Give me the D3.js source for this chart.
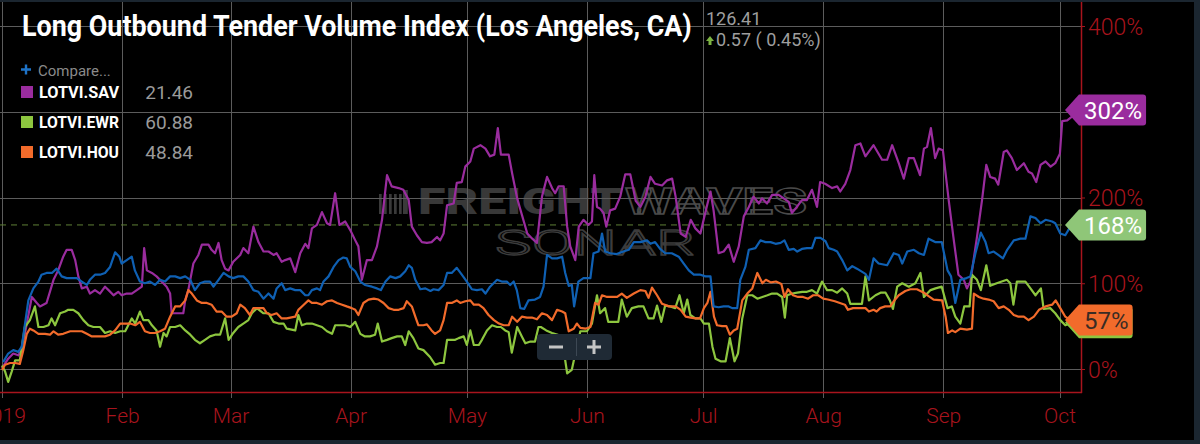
<!DOCTYPE html>
<html><head><meta charset="utf-8">
<script src="https://cdn.jsdelivr.net/npm/d3@7"></script>
<style>
html,body{margin:0;padding:0;background:#000;overflow:hidden}
svg{display:block;font-family:Roboto,"Noto Sans",sans-serif}
</style>
</head><body>
<svg id="chart" width="1200" height="444"></svg>
<script>
// ---------------- DATA ----------------
const titleText = "Long Outbound Tender Volume Index (Los Angeles, CA)";
const lastPrice = "126.41";
const priceChange = "0.57 ( 0.45%)";
const monthTicks = ["2019-01-01","2019-02-01","2019-03-01","2019-04-01","2019-05-01","2019-06-01","2019-07-01","2019-08-01","2019-09-01","2019-10-01"];
const monthLabels = ["2019","Feb","Mar","Apr","May","Jun","Jul","Aug","Sep","Oct"];
const yGrid = [0,100,200,300,400];
const yLabelTicks = [0,100,200,400]; // 300% label sits under the 302% tag
const legendNames = ["LOTVI.SAV","LOTVI.EWR","LOTVI.HOU"];
const legendValues = ["21.46","60.88","48.84"];
const compareLabel = "Compare...";
// series: [day offset from 2019-01-01, % change]
const lax = [[0.3,8],[1.6,18],[2.9,22],[4.2,20],[5.1,26],[6.8,80],[8.1,94],[9.4,102],[10.2,110],[11.5,112],[12.9,112],[14.1,117],[15.4,108],[16.7,106],[18,106],[19.3,106],[20.6,102],[21.9,98],[22.7,104],[24,110],[25.3,110],[26.6,112],[27.9,119],[29.2,136],[30.3,131],[30.9,123],[32.2,127],[33.5,131],[34.3,115],[35.6,102],[36.9,100],[38.2,102],[39.5,98],[40.8,104],[42.1,102],[43.4,108],[44.7,108],[46,106],[47.3,108],[48.6,104],[49.8,92],[51.1,100],[52.4,102],[53.7,102],[54.6,96],[55.9,104],[57.2,112],[58.5,108],[59.7,106],[61,108],[62.3,108],[63.6,102],[64.9,92],[66.2,90],[67.5,82],[68.8,88],[70.1,82],[70.9,94],[72.2,100],[73.1,92],[74.4,94],[75.7,92],[77,92],[78.3,86],[79.1,86],[80,92],[81.3,94],[82.1,92],[83,102],[84.3,108],[85.6,119],[86.9,127],[88.1,130],[89,129],[89.9,119],[91.2,114],[92.5,102],[93.7,98],[95.5,96],[96.8,94],[97.8,92],[99,102],[100.2,108],[101.6,106],[102.8,108],[104.1,114],[105,121],[105.8,118],[106.7,104],[108,93],[109.3,94],[110.6,91],[111.4,93],[112.7,92],[114,98],[114.9,112],[116.1,112],[117.4,118],[118.7,110],[120,102],[121.3,93],[122.6,92],[123.9,93],[124.8,88],[126,96],[127.8,104],[129,102],[130.3,102],[131.2,98],[132.1,102],[132.9,92],[133.8,71],[134.8,70],[135.9,80],[137.6,81],[138.9,84],[139.8,96],[140.7,133],[142,129],[143.3,129],[144.6,131],[145.4,112],[146.3,97],[147.1,98],[147.7,73],[148.8,102],[150.1,106],[151.9,106],[152.7,135],[154,137],[154.9,158],[155.7,137],[157,135],[158.7,134],[160.4,137],[161.8,139],[163.1,148],[164.8,148],[166.5,150],[167.4,146],[168.6,148],[169.9,140],[171.2,135],[172.9,135],[174.7,131],[176,123],[177.3,115],[178.6,110],[180.3,110],[181.6,108],[182.9,108],[183.7,73],[185,72],[186.3,73],[187.6,73],[188.5,71],[189.8,71],[190.6,104],[191.9,119],[192.8,139],[194.5,141],[195.8,150],[197.1,148],[198.4,148],[199.7,146],[201,147],[202,150],[203.1,139],[204.4,140],[205.3,137],[206.5,140],[207.8,141],[209.1,141],[210,153],[211.3,153],[212.6,149],[213.4,141],[214.7,139],[215.6,137],[216.9,127],[218.2,115],[219.5,120],[220.7,117],[222.9,111],[223.8,104],[225,129],[226.3,123],[228.5,121],[230.2,135],[231.5,133],[232.4,123],[233.7,137],[235.4,139],[236.7,135],[238,133],[239.2,152],[240.9,148],[242.6,148],[244.1,115],[245,108],[246.1,77],[247.4,104],[249,106],[250,108],[251.3,135],[252.7,159],[253.9,148],[254.7,135],[256,137],[257.2,133],[258.4,129],[259.5,139],[261.2,150],[262.9,152],[264.2,152],[265.5,178],[266.8,176],[268.1,170],[269.4,174],[271.1,172],[271.9,170],[273.2,158],[274.5,156],[275.8,166],[276.6,168]];
const sav = [[0,1],[1.6,12],[2.9,18],[4.2,16],[5.1,22],[6.4,53],[7.7,84],[9,77],[9.8,73],[11.5,77],[13.3,104],[14.5,115],[15.8,131],[16.7,139],[18,139],[18.9,127],[19.7,108],[20.6,94],[21.9,96],[22.7,88],[24,92],[25.3,88],[26.6,96],[27.5,92],[28.8,86],[30,90],[30.9,86],[32.2,88],[33.5,88],[34.8,92],[36.1,96],[36.7,141],[37.4,115],[38.7,112],[39.9,108],[41.2,102],[42.5,96],[43.4,88],[43.8,65],[45.1,65],[46.8,65],[47.3,80],[48.1,92],[49.4,123],[50.7,133],[51.6,145],[53.3,145],[54.1,139],[55,135],[55.9,147],[56.7,127],[57.6,117],[58.5,115],[59.7,125],[61.5,133],[62.3,141],[63.6,135],[64.9,166],[66.2,148],[67.5,137],[68.8,137],[70.1,133],[70.9,135],[72.2,125],[73.1,127],[74.4,129],[75.7,113],[77,135],[78.3,146],[79.1,141],[80,164],[81.3,168],[82.6,183],[83.9,170],[84.7,168],[86,205],[87.1,168],[88.6,172],[89.9,162],[91.2,150],[92,143],[92.9,104],[94.2,127],[95.5,127],[96.8,143],[98.1,174],[99.4,226],[100.6,213],[102.4,211],[103.6,209],[105,197],[105.8,166],[107.1,156],[108.4,148],[109.7,147],[110.9,148],[112.3,154],[113.1,150],[114,158],[114.9,191],[116.6,193],[117.4,217],[118.7,218],[119.6,236],[120.9,242],[121.8,257],[123.5,261],[124.8,257],[126,248],[127.1,250],[128,281],[128.8,250],[130.8,250],[131.7,228],[133,199],[134.2,180],[135.6,158],[136.9,152],[138.1,147],[139.4,201],[140.7,224],[142,211],[142.8,205],[143.7,213],[145,213],[145.9,166],[146.7,143],[148,127],[148.9,166],[150.1,174],[151.4,168],[152.3,172],[152.9,226],[153.6,189],[154.4,187],[155.3,182],[156,166],[157,185],[158.3,187],[159.6,201],[160.9,227],[162.2,227],[163.6,196],[164.8,189],[166.1,201],[167.4,224],[168.6,216],[170.4,214],[171.7,220],[173,222],[173.9,201],[175.2,158],[176.5,154],[177.8,174],[179,164],[180.3,158],[181.6,183],[182.9,207],[183.7,185],[185,135],[186.3,137],[187.6,145],[188.9,125],[190.2,143],[191.5,178],[192.8,189],[194,201],[195.4,193],[196.2,199],[197.5,193],[198.8,203],[200.5,203],[201.8,199],[203.1,195],[203.9,182],[205.2,189],[206.5,197],[207.8,197],[209.1,209],[210.4,189],[211.2,218],[212.5,216],[214.3,211],[215.6,213],[216.4,207],[217.7,216],[219,232],[220.3,261],[221.6,263],[222.9,248],[225,261],[227.2,244],[228.5,244],[229.8,261],[231.5,240],[232.8,222],[234.1,246],[235.4,246],[237,226],[238,257],[238.8,259],[239.8,281],[240.9,246],[241.8,257],[242.9,255],[244.4,197],[245.6,154],[246.9,110],[248.3,104],[249.1,94],[250,102],[251.7,154],[253,197],[254.1,238],[255.1,224],[256.4,222],[257.2,215],[258.6,253],[259.4,255],[260.7,246],[262,232],[263.8,240],[265,230],[265.9,228],[267,218],[268.1,238],[269.4,242],[270.7,236],[271.9,240],[273.1,251],[273.7,289],[275,290],[276.7,296]];
const ewr = [[0,4],[0.8,-3],[1.6,-15],[2.5,-3],[3.4,10],[4.6,10],[5.9,49],[7.2,57],[8.5,73],[9.4,49],[10.7,49],[12,51],[12.8,59],[13.7,51],[15,65],[16.3,67],[17.1,69],[18.4,69],[19.7,65],[21,57],[22.3,51],[23.6,49],[25.3,49],[26.6,42],[27.9,44],[29.2,42],[30.5,44],[31.8,44],[33.5,59],[34.4,53],[35.6,67],[36.5,57],[37.8,57],[38.7,51],[39.9,45],[40.8,26],[41.7,42],[42.5,38],[43.4,49],[44.7,49],[46,51],[47.3,45],[48.6,40],[49.8,34],[51.1,30],[52.4,34],[53.7,38],[55,40],[56.3,40],[57.6,59],[58.5,34],[59.7,42],[61,49],[62.3,53],[63.6,57],[64.5,65],[65.8,71],[67.5,65],[68.8,65],[70.1,55],[71.4,53],[72.7,53],[73.5,47],[75.7,45],[76.5,63],[77.4,51],[78.7,53],[80,53],[81.3,51],[82.6,49],[83.9,44],[85.2,41],[86,51],[87.3,51],[88.6,51],[89.9,49],[91.2,55],[92.5,41],[93.7,38],[95,38],[96.3,40],[97,53],[98.1,32],[99.4,34],[100.6,36],[102,38],[103.2,38],[104.1,28],[105,44],[106.2,36],[107.5,24],[108.8,22],[110.5,14],[111.8,5],[113.1,7],[114,7],[114.9,34],[117,34],[117.9,36],[119.2,38],[120,28],[120.9,45],[121.8,28],[123.1,28],[123.9,34],[125.2,45],[126.5,51],[127.8,49],[128.8,49],[129.9,45],[130.8,43],[131.6,19],[133,49],[134.2,38],[135.1,30],[136.4,32],[137.6,32],[138.5,49],[139.1,49],[140.5,45],[142,42],[143.5,40],[145,22],[145.9,-5],[147.1,-1],[148.2,22],[149.3,44],[151,44],[152.3,53],[153.6,86],[154.4,65],[155.7,71],[156.5,55],[157.8,55],[159.1,55],[160,81],[161.3,61],[162.6,71],[164.3,73],[165.6,73],[166.9,59],[168.2,59],[169.1,74],[170.2,55],[171.2,74],[172.5,73],[173.8,71],[174.9,86],[176,65],[176.9,81],[177.7,63],[179,59],[180.3,59],[181.2,53],[182.5,53],[183.4,26],[184.2,12],[185.5,9],[186.8,9],[187.9,36],[189.1,9],[190,18],[191.1,59],[192.4,86],[193.7,86],[195,82],[196.3,84],[197.6,86],[198.8,88],[200.1,88],[201.4,84],[202.1,60],[202.7,86],[204,88],[205.3,89],[206.6,90],[207.8,90],[209.1,92],[210.4,88],[211.7,102],[213,92],[214.3,92],[215.6,89],[216.9,94],[218.2,88],[219,76],[220.7,76],[222,76],[222.9,108],[223.8,80],[225.5,86],[226.8,89],[228.1,89],[229.2,80],[230,70],[231.1,96],[232.4,100],[234.1,96],[235.8,100],[237.1,112],[238,84],[239.7,92],[241,94],[242.6,96],[244.1,71],[245.2,73],[246.1,61],[247.4,53],[248.4,73],[249.8,73],[250.4,110],[251.7,104],[252.7,92],[254.1,121],[255.1,97],[256.8,100],[258.1,102],[259.4,104],[260.3,100],[261.1,75],[262,102],[264.2,102],[265.5,94],[266.8,86],[268.2,94],[268.9,70],[270.6,71],[271.9,65],[273.2,57],[274.5,51],[275.8,53],[276.6,54]];
const hou = [[0,-1],[0.8,5],[2.1,7],[3.4,7],[4.6,6],[5.5,22],[6.4,41],[7.2,47],[8.1,45],[9.4,41],[11.1,41],[12.4,40],[13.3,44],[14.5,40],[15.8,41],[17.6,44],[19.3,44],[20.6,44],[21.9,41],[23.2,38],[24.9,38],[26.6,38],[27.9,40],[29.2,45],[30.5,53],[31.8,53],[33.1,53],[34.4,51],[35.6,55],[36.9,44],[38.2,42],[39.5,42],[40.8,44],[42.1,47],[43.4,61],[44.7,73],[46,73],[47.3,80],[48.1,92],[49,88],[50.3,80],[51.6,77],[52.9,77],[54.1,75],[55.4,67],[56.7,67],[58,61],[59.3,61],[60.6,65],[61.5,75],[62.7,71],[64,63],[64.9,71],[66.2,71],[67.5,71],[68.4,65],[69.6,63],[70.9,65],[72.2,59],[73.5,59],[75.7,61],[76.5,69],[77.9,75],[79.1,80],[80,77],[81.3,77],[82.6,75],[83.9,79],[85.2,80],[86.5,77],[87.8,75],[89,73],[90.3,71],[91.2,69],[92,63],[93.3,77],[94.6,81],[96,82],[97.2,81],[98.5,77],[99.8,71],[101.1,69],[102.4,69],[103.7,71],[104.5,79],[105.8,73],[106.7,61],[107.5,51],[108.8,51],[109.7,52],[110.9,45],[111.8,41],[113.1,45],[114,57],[114.9,77],[116.1,77],[117.4,80],[118.3,77],[119.6,79],[120.9,80],[121.8,75],[123.1,75],[124.3,71],[125.6,63],[127,57],[128.3,53],[129.5,51],[130.8,51],[131.7,61],[133,55],[134.2,61],[135.5,60],[136.8,60],[138.1,58],[139.4,65],[140.7,63],[142,57],[143.3,69],[144.6,67],[145.4,65],[146.3,44],[147.6,47],[148.4,53],[149.3,48],[150.6,47],[151.9,49],[153.1,77],[154,75],[154.9,86],[156.2,84],[157.5,84],[158.8,84],[160,88],[161.3,83],[163.1,88],[164.8,92],[166.1,91],[166.9,83],[167.8,95],[169.1,86],[170.4,76],[172.2,73],[173.9,73],[175.2,69],[176.5,61],[177.8,60],[179,59],[180.2,59],[181.2,71],[182.1,77],[182.9,90],[183.8,61],[184.6,51],[185.9,50],[187,50],[187.9,40],[188.9,45],[189.8,47],[191.1,80],[192.4,88],[193.7,94],[195,112],[196.3,100],[197.2,104],[198.5,101],[199.8,102],[201.2,99],[202,84],[202.9,93],[204.2,86],[205.5,84],[206.8,84],[208.1,82],[209.4,86],[210.7,86],[212,82],[213.2,81],[215,79],[216.3,77],[217.6,75],[218.4,69],[219.7,71],[221,71],[222.9,71],[223.8,67],[225,69],[225.8,67],[226.7,71],[228,73],[229.3,73],[230.2,79],[231.5,86],[233.2,91],[234.5,93],[236.2,93],[238,89],[239.2,85],[240.5,81],[242.7,80],[243.6,61],[244.2,42],[245.3,45],[246.1,43],[247.4,47],[249.1,46],[250.4,47],[250.9,88],[252.2,84],[253.4,82],[254.7,81],[256,79],[257.3,71],[258.6,73],[259.9,69],[261.2,63],[262.4,61],[263.8,61],[265,57],[266.4,61],[267.7,69],[269.4,73],[271.1,75],[272,80],[273.2,71],[274.5,61],[275.8,57],[276.6,57]];
// last-value tags: drawn in this order (later on top); EWR tag is hidden behind HOU
const tagValues = [302,168,54,57];
const tagShowText = [true,true,false,true];
const tagColors = ["#9a2c9e","#8fc678","#8dc63f","#f26b2b"];
const tagTextColors = ["#ffffff","#ffffff","#333333","#3a2c24"];
const mainPriceLine = 168;

// ---------------- STYLE ----------------
const colLax = "#0f60b3", colSav = "#9a2c9e", colEwr = "#8dc63f", colHou = "#f26b2b";
const red = "#a8141d", grid = "#5c5c5c";
const W = 1200, H = 444;
const plotRight = 1081, plotBottom = 392;
const t0 = new Date(2019,0,1);
const toDate = d => new Date(t0.getTime() + d*86400000);
const parse = d3.timeParse("%Y-%m-%d");

const x = d3.scaleTime().domain([parse("2019-01-01"), parse("2019-10-01")]).range([2, 1059.5]);
const y = d3.scaleLinear().domain([0,400]).range([369, 26]);

const svg = d3.select("#chart");
svg.append("rect").attr("width",W).attr("height",H).attr("fill","#000");

// watermark
const wm = svg.append("g").attr("class","watermark");
[[379,3],[384,3],[389,3],[394,3],[399,3],[403,6]].forEach((b,i)=>{
  wm.append("rect").attr("x",b[0]).attr("y",190+ (i<5?4:0)).attr("width",b[1]*0.7+0.6).attr("height",(i<5?20:24)).attr("fill","#3a3a3a");
});
wm.append("text").attr("x",418).attr("y",214).attr("font-size",36).attr("font-weight",900)
  .attr("fill","#383838").attr("textLength",204).attr("lengthAdjust","spacingAndGlyphs").text("FREIGHT");
wm.append("text").attr("x",625).attr("y",214).attr("font-size",36).attr("font-weight",700)
  .attr("fill","none").attr("stroke","#4a4a4a").attr("stroke-width",1.3).attr("textLength",182).attr("lengthAdjust","spacingAndGlyphs").text("WAVES");
wm.append("text").attr("x",495).attr("y",255).attr("font-size",35).attr("font-weight",300)
  .attr("fill","none").attr("stroke","#3c3c3c").attr("stroke-width",1.3).attr("textLength",200).attr("lengthAdjust","spacingAndGlyphs").text("SONAR");

// gridlines
const tickDates = monthTicks.map(parse);
svg.append("g").selectAll("line").data(tickDates).join("line")
  .attr("x1",d=>Math.round(x(d))+0.5).attr("x2",d=>Math.round(x(d))+0.5)
  .attr("y1",0).attr("y2",plotBottom+6).attr("stroke",grid).attr("stroke-width",1);
svg.append("g").selectAll("line").data(yGrid).join("line")
  .attr("x1",0).attr("x2",plotRight).attr("y1",d=>Math.round(y(d))+0.5).attr("y2",d=>Math.round(y(d))+0.5)
  .attr("stroke",grid).attr("stroke-width",1);

// current price dashed line
svg.append("line").attr("x1",0).attr("x2",plotRight).attr("y1",y(mainPriceLine)).attr("y2",y(mainPriceLine))
  .attr("stroke","#5f7f36").attr("stroke-width",1).attr("stroke-dasharray","6,5");

// series
const line = d3.line().x(d=>x(toDate(d[0]))).y(d=>y(d[1]));
svg.append("clipPath").attr("id","plotclip").append("rect").attr("x",0).attr("y",0).attr("width",plotRight).attr("height",plotBottom);
const lg = svg.append("g").attr("clip-path","url(#plotclip)");
[[sav,colSav],[ewr,colEwr],[hou,colHou],[lax,colLax]].forEach(([data,c])=>{
  lg.append("path").datum(data).attr("d",line).attr("fill","none").attr("stroke",c)
    .attr("stroke-width",2.2).attr("stroke-linejoin","round");
});

// axes
const xAxis = d3.axisBottom(x).tickValues(tickDates).tickSize(0).tickFormat((d,i)=>monthLabels[i]);
const gx = svg.append("g").attr("transform",`translate(0,${plotBottom})`).call(xAxis);
gx.select(".domain").remove();
gx.selectAll("text").attr("y",31).attr("dy",0).attr("fill",red).attr("font-size",21).attr("font-weight",300).attr("font-family","Roboto");
const yAxis = d3.axisRight(y).tickValues(yLabelTicks).tickSize(4).tickFormat(d=>d+"%");
const gy = svg.append("g").attr("transform",`translate(${plotRight},0)`).call(yAxis);
gy.select(".domain").remove();
gy.selectAll("line").attr("stroke",red);
gy.selectAll("text").attr("x",7).attr("dy","0.36em").attr("fill",red).attr("font-size",23).attr("font-weight",300).attr("font-family","Roboto");
svg.append("line").attr("x1",plotRight+0.5).attr("x2",plotRight+0.5).attr("y1",0).attr("y2",plotBottom+1).attr("stroke",red).attr("stroke-width",1.5);
svg.append("line").attr("x1",0).attr("x2",plotRight+1).attr("y1",plotBottom+0.5).attr("y2",plotBottom+0.5).attr("stroke",red).attr("stroke-width",1.5);

// title & price
const title = svg.append("text").attr("x",0).attr("y",0).attr("fill","#fff").attr("font-size",29).attr("font-weight",700).text(titleText);
const tl = title.node().getComputedTextLength();
title.attr("transform",`translate(22,36) scale(${670/tl},1)`);
svg.append("text").attr("x",706).attr("y",25).attr("fill","#9e9e9e").attr("font-size",18).attr("font-weight",400).text(lastPrice);
svg.append("path").attr("d","M710,36 L714,41 L711.5,41 L711.5,45 L708.5,45 L708.5,41 L706,41 Z").attr("fill","#7cb342");
svg.append("text").attr("x",716).attr("y",46).attr("fill","#9e9e9e").attr("font-size",18).attr("font-weight",400).text(priceChange);

// legend
svg.append("path").attr("d","M21,69.5H31M26,64.5V74.5").attr("stroke","#1e73c8").attr("stroke-width",2.4);
svg.append("text").attr("x",38).attr("y",76).attr("fill","#8a8a8a").attr("font-size",15).text(compareLabel);
const legColors = [colSav, colEwr, colHou];
const leg = svg.append("g").selectAll("g").data(legendNames).join("g")
  .attr("transform",(d,i)=>`translate(0,${92+i*30})`);
leg.append("rect").attr("x",21).attr("y",-6).attr("width",12).attr("height",12).attr("fill",(d,i)=>legColors[i]);
leg.append("text").attr("x",39).attr("y",6).attr("fill","#fff").attr("font-size",16.5).attr("font-weight",700)
  .attr("textLength",80).attr("lengthAdjust","spacingAndGlyphs").text(d=>d);
leg.append("text").attr("x",193).attr("y",7).attr("text-anchor","end").attr("fill","#9a9a9a").attr("font-size",19).text((d,i)=>legendValues[i]);

// zoom buttons
const zb = svg.append("g");
zb.append("rect").attr("x",537).attr("y",334).attr("width",75).attr("height",26).attr("rx",4).attr("fill","#1f2a35");
zb.append("rect").attr("x",549).attr("y",345.5).attr("width",14).attr("height",3).attr("fill","#c4c4c4");
zb.append("line").attr("x1",576.5).attr("x2",576.5).attr("y1",338).attr("y2",356).attr("stroke","#3d4854");
zb.append("rect").attr("x",587).attr("y",345.5).attr("width",14).attr("height",3).attr("fill","#c4c4c4");
zb.append("rect").attr("x",592.5).attr("y",340).attr("width",3).attr("height",14).attr("fill","#c4c4c4");

// last value tags
const tags = svg.append("g");
tagValues.forEach((v,i)=>{
  const yc = y(v);
  const g = tags.append("g");
  const path = g.append("path").attr("fill",tagColors[i]);
  const t = g.append("text").attr("x",1084).attr("y",yc).attr("dy","0.36em").attr("fill",tagTextColors[i])
    .attr("font-size",24).attr("font-weight",400).text(v+"%");
  const w = t.node().getComputedTextLength() + 9;
  if (!tagShowText[i]) t.remove();
  const h = 31, x0 = 1065, x1 = 1079, r = 3, top = yc-h/2, bot = yc+h/2;
  path.attr("d",`M${x0},${yc}L${x1},${top}H${x1+w-r}Q${x1+w},${top} ${x1+w},${top+r}V${bot-r}Q${x1+w},${bot} ${x1+w-r},${bot}H${x1}Z`);
});

// frame
const frame = "#1b2630";
svg.append("rect").attr("x",0).attr("y",0).attr("width",W).attr("height",2).attr("fill",frame);
svg.append("rect").attr("x",1194).attr("y",0).attr("width",6).attr("height",H).attr("fill",frame);
svg.append("rect").attr("x",0).attr("y",440).attr("width",W).attr("height",4).attr("fill",frame);
</script>
</body></html>
